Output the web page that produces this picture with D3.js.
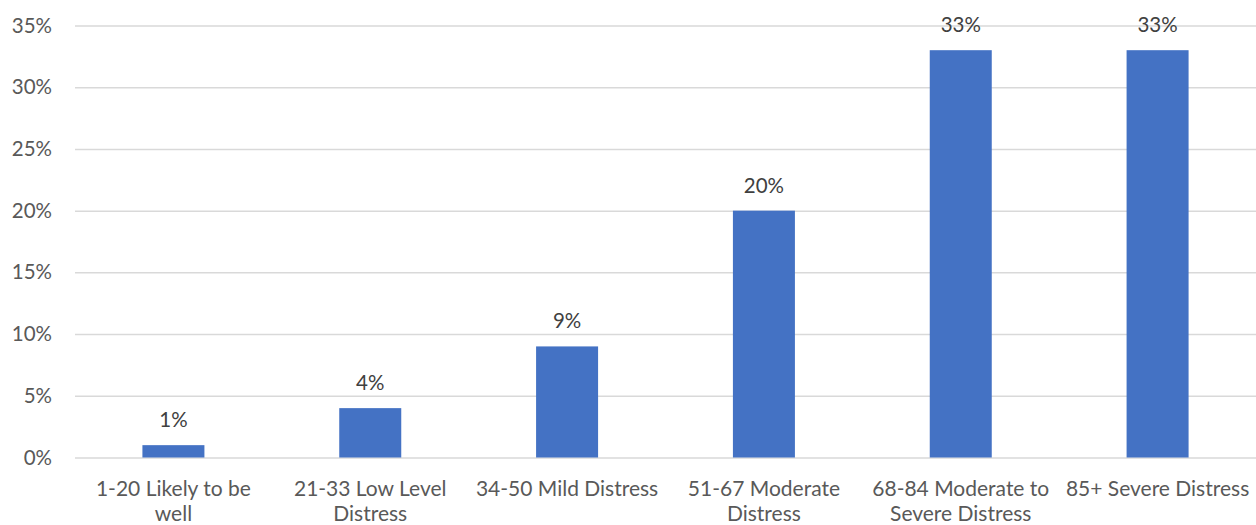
<!DOCTYPE html>
<html><head><meta charset="utf-8">
<script src="https://cdn.jsdelivr.net/npm/d3@7"></script>
<style>body{margin:0;background:#fff}svg{display:block}</style>
</head><body>
<svg id="c" width="1256" height="525"></svg>
<script>
const categories = ["1-20 Likely to be well","21-33 Low Level Distress","34-50 Mild Distress","51-67 Moderate Distress","68-84 Moderate to Severe Distress","85+ Severe Distress"];
const categoryLines = [["1-20 Likely to be","well"],["21-33 Low Level","Distress"],["34-50 Mild Distress"],["51-67 Moderate","Distress"],["68-84 Moderate to","Severe Distress"],["85+ Severe Distress"]];
const values = [1,4,9,20,33,33];
const yTicks = [0,5,10,15,20,25,30,35];

const svg = d3.select("#c");
const font = "Lato, 'Open Sans', sans-serif";
const x = d3.scaleBand().domain(categories).range([75,1256]).paddingInner(0.685).paddingOuter(0.3425);
const y = d3.scaleLinear().domain([0,35]).range([457.5,25.5]);

const yAxis = d3.axisLeft(y).tickValues(yTicks).tickFormat(d=>d+"%").tickSize(-(1256-75)).tickPadding(23);
const gy = svg.append("g").attr("transform","translate(75,0)").call(yAxis);
gy.select(".domain").remove();
gy.selectAll(".tick line").attr("stroke","#d9d9d9").attr("stroke-width",1.5);
gy.selectAll(".tick text").attr("fill","#595959").style("font-family",font).style("font-size","20.5px");

svg.append("g").selectAll("rect").data(values).join("rect")
  .attr("x",(d,i)=>x(categories[i])).attr("width",x.bandwidth())
  .attr("y",d=>y(d)).attr("height",d=>y(0)-y(d)).attr("fill","#4472C4");

svg.append("g").selectAll("text").data(values).join("text")
  .attr("x",(d,i)=>x(categories[i])+x.bandwidth()/2).attr("y",d=>y(d)-18)
  .attr("text-anchor","middle").attr("fill","#404040")
  .style("font-family",font).style("font-size","20.5px").text(d=>d+"%");

const gx = svg.append("g");
categories.forEach((c,i)=>{
  categoryLines[i].forEach((l,j)=>gx.append("text")
    .attr("x",x(c)+x.bandwidth()/2).attr("y",496 + j*25)
    .attr("text-anchor","middle").attr("fill","#595959").style("font-family",font).style("font-size","21px")
    .text(l));
});
</script>
</body></html>
